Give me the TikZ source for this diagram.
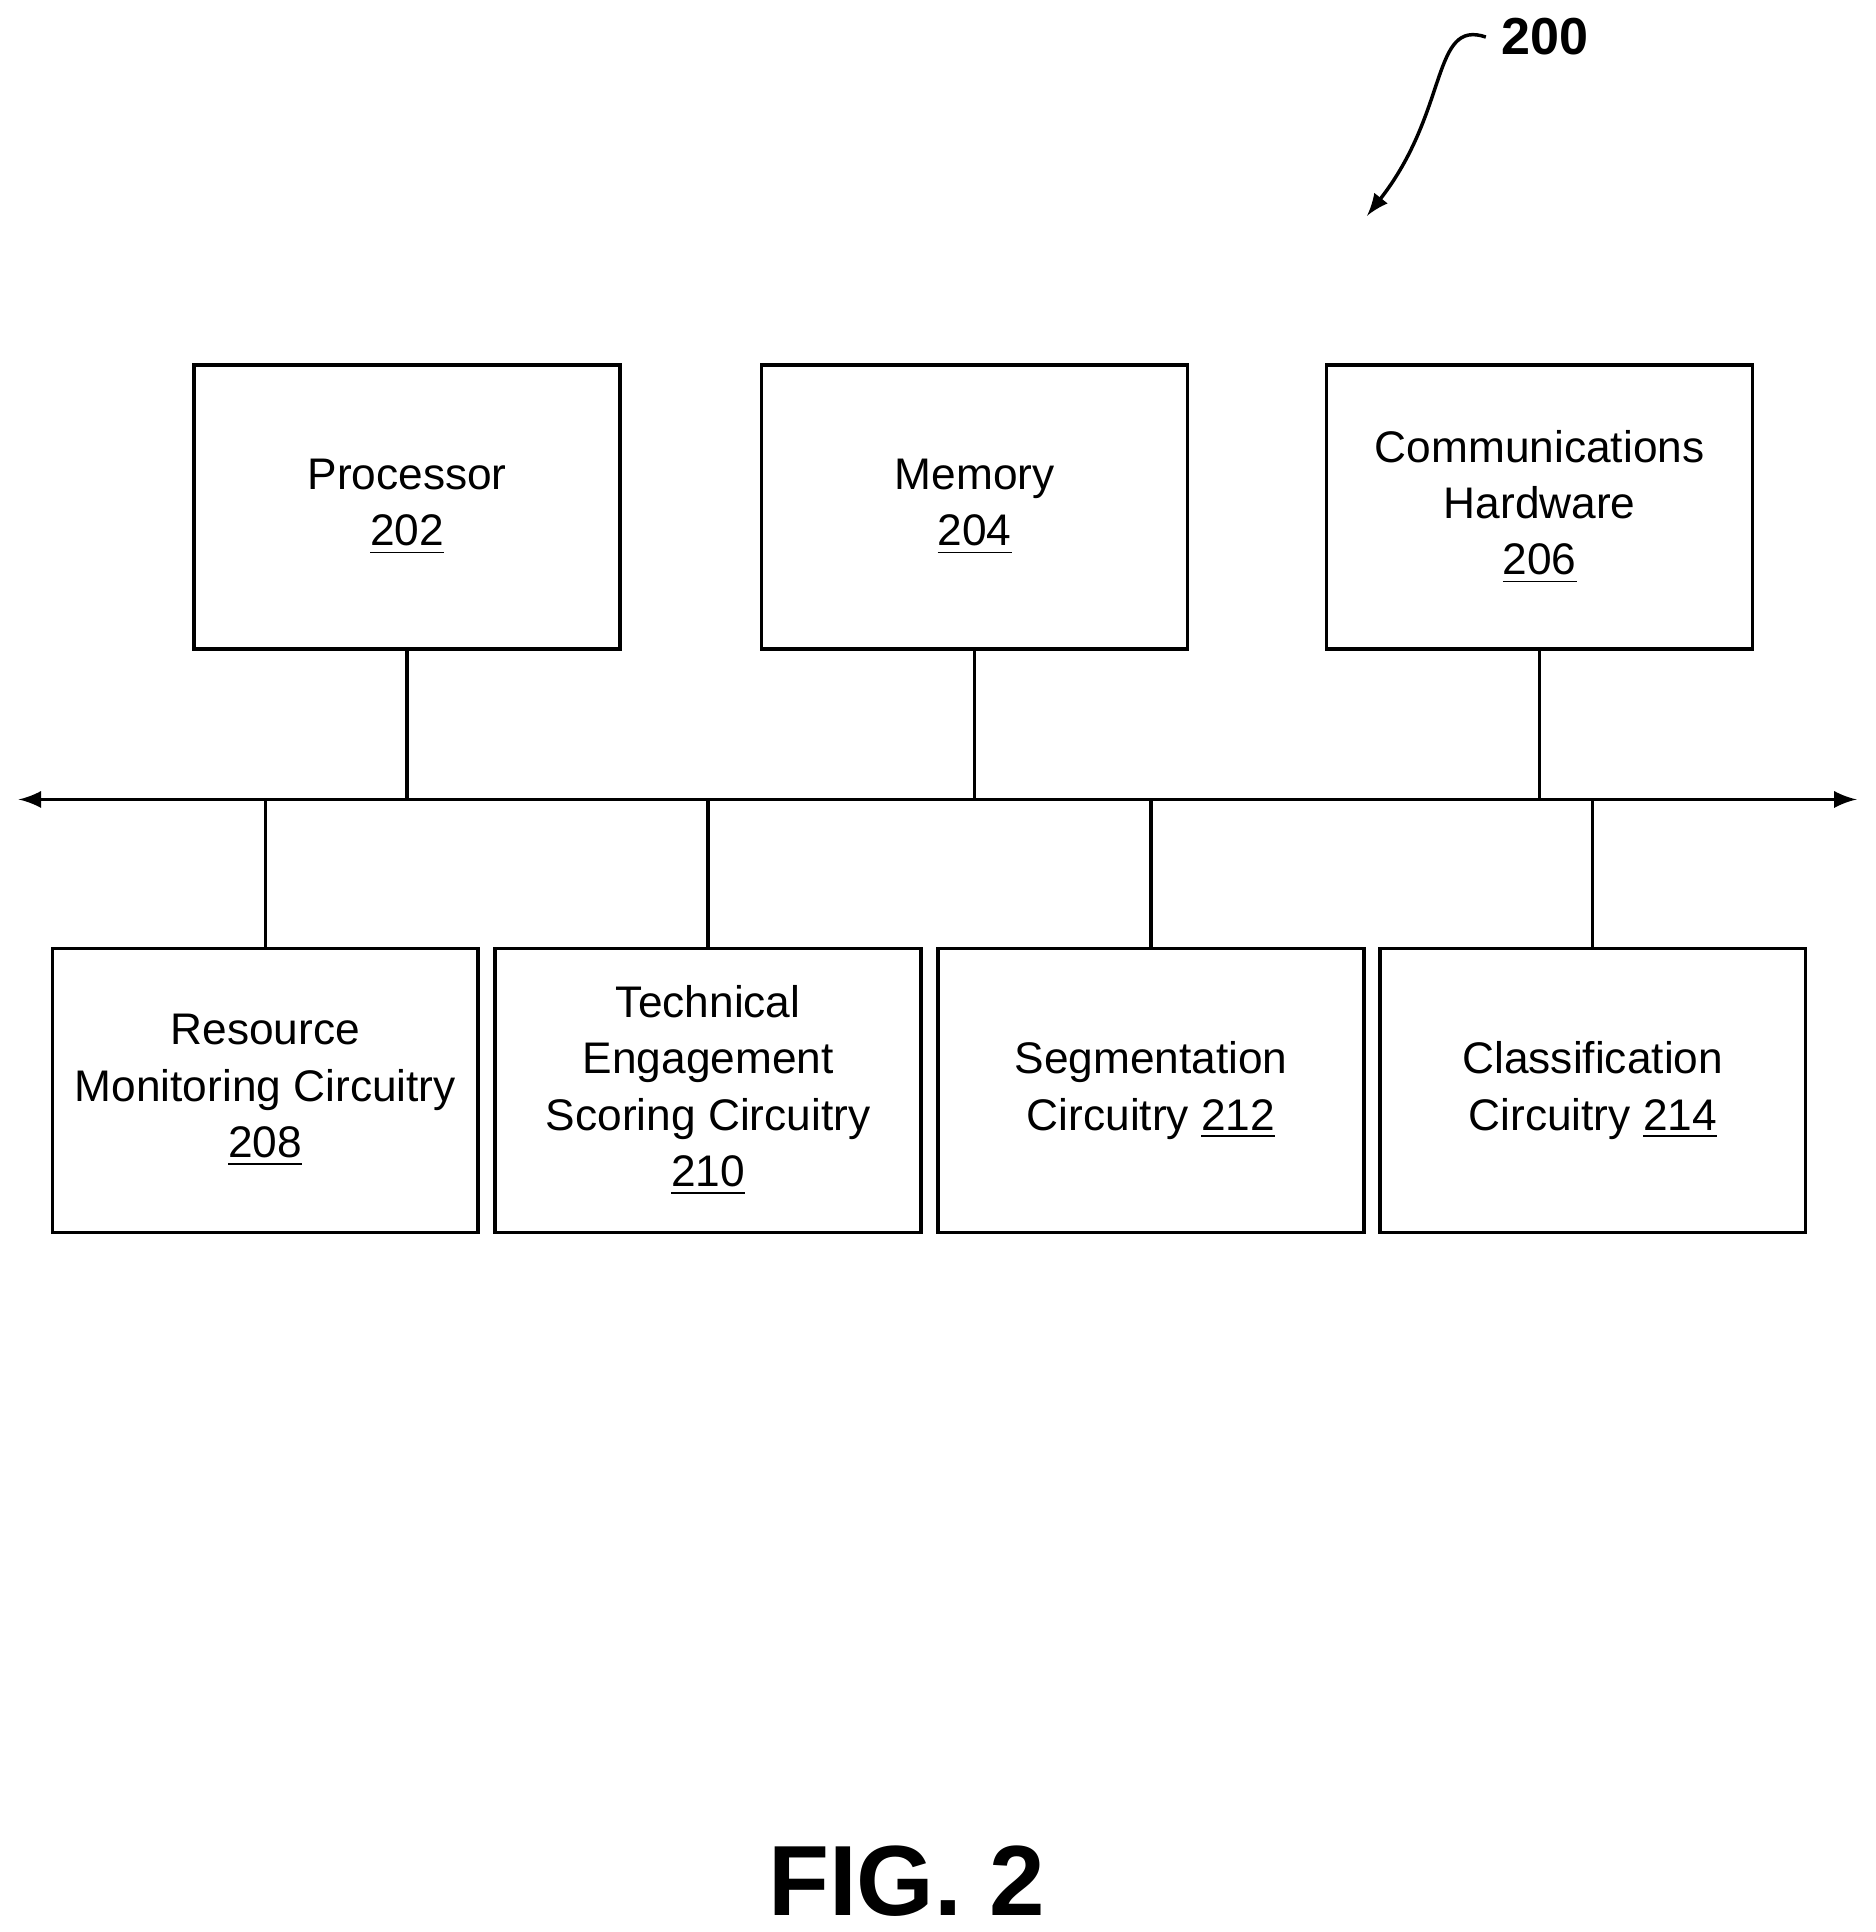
\documentclass[tikz,border=0pt]{standalone}
\usepackage{fontspec}
\setmainfont{Liberation Sans}
\usetikzlibrary{positioning}
\tikzset{
  block/.style={draw, thick, minimum width=3.45cm, minimum height=2.3cm, align=center, font=\fontsize{10.2}{13}\selectfont},
  bus/.style={thick}
}
\begin{document}
\begin{tikzpicture}[x=0.01cm, y=-0.01cm]
    \useasboundingbox (0,0) rectangle (1520,1566);
    % top row
    \node[block] (proc) at (330,411) {Processor\\\underline{202}};
    \node[block] (mem) at (790,411) {Memory\\\underline{204}};
    \node[block] (comm) at (1248,411) {Communications\\Hardware\\\underline{206}};
    % bottom row
    \node[block] (res) at (215,884) {Resource\\Monitoring Circuitry\\\underline{208}};
    \node[block] (tech) at (574,884) {Technical\\Engagement\\Scoring Circuitry\\\underline{210}};
    \node[block] (seg) at (933,884) {Segmentation\\Circuitry \underline{212}};
    \node[block] (cls) at (1291,884) {Classification\\Circuitry \underline{214}};

    \coordinate (busl) at (15,648);
    \coordinate (busr) at (1505,648);
    \draw[bus, -latex] (790,648) -- (busr);
    \draw[bus, -latex] (790,648) -- (busl);
    \foreach \n in {proc, mem, comm}
      \draw[bus] (\n.south) -- (\n.south |- busl);
    \foreach \n in {res, tech, seg, cls}
      \draw[bus] (\n.north) -- (\n.north |- busl);

    \node[font=\bfseries\fontsize{12}{14}\selectfont] (ref) at (1252,30) {200};
    \draw[thick, -latex] (ref.west) .. controls (1160,15) and (1175,90) .. (1108,175);
    \node[font=\bfseries\fontsize{23}{26}\selectfont] (fig) at (735,1525) {FIG. 2};
\end{tikzpicture}
\end{document}
